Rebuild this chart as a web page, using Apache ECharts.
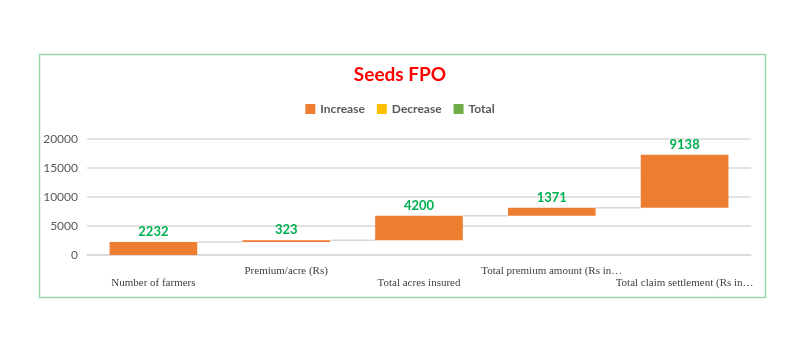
<!DOCTYPE html>
<html>
<head>
<meta charset="utf-8">
<script src="https://cdn.jsdelivr.net/npm/echarts@6/dist/echarts.min.js"></script>
<style>html,body{margin:0;padding:0;background:#fff;}#c{width:800px;height:346px;}</style>
</head>
<body>
<div id="c"></div>
<script>
const categories = ['Number of farmers', 'Premium/acre (Rs)', 'Total acres insured', 'Total premium amount (Rs in\u2026', 'Total claim settlement (Rs in\u2026'];
const increaseValues = [2232, 323, 4200, 1371, 9138];
const yTicks = { min: 0, max: 20000, interval: 5000 };

// derived cumulative bases for waterfall
const baseValues = [];
const topValues = [];
let run = 0;
increaseValues.forEach(v => { baseValues.push(run); run += v; topValues.push(run); });

const chart = echarts.init(document.getElementById('c'), null, { renderer: 'canvas' });
const BAR_RATIO = 0.66;

chart.setOption({
  animation: false,
  backgroundColor: '#fff',
  graphic: [{
    type: 'rect', left: 37, top: 52, shape: { width: 726, height: 243 },
    style: { fill: 'none', stroke: '#9ad9ad', lineWidth: 1.5 }, silent: true
  }],
  title: {
    text: 'Seeds FPO', left: 'center', top: 60,
    textStyle: { color: '#ff0000', fontFamily: 'Lato', fontWeight: 'bold', fontSize: 19 }
  },
  legend: {
    top: 98, left: 'center',
    data: ['Increase', 'Decrease', 'Total'],
    icon: 'rect', itemWidth: 10, itemHeight: 10, itemGap: 12,
    textStyle: { color: '#595959', fontFamily: 'Lato', fontWeight: 'bold', fontSize: 12 }
  },
  grid: { left: 87, right: 49, top: 139, bottom: 91 },
  xAxis: {
    type: 'category', data: categories,
    axisLine: { lineStyle: { color: '#d9d9d9', width: 1.5 } },
    axisTick: { show: false },
    axisLabel: {
      interval: 0, margin: 10,
      color: '#404040', fontFamily: 'Liberation Serif', fontSize: 11, lineHeight: 12,
      formatter: (v, i) => (i % 2 === 0 ? '\n' + v : v)
    }
  },
  yAxis: {
    type: 'value', min: yTicks.min, max: yTicks.max, interval: yTicks.interval,
    axisLine: { show: false }, axisTick: { show: false },
    splitLine: { lineStyle: { color: '#d9d9d9', width: 1.5 } },
    axisLabel: { color: '#595959', fontFamily: 'Lato', fontSize: 12, margin: 9, formatter: v => String(v) }
  },
  series: [
    {
      name: 'Base', type: 'bar', stack: 'w', data: baseValues,
      itemStyle: { color: 'transparent' }, barWidth: (BAR_RATIO * 100) + '%', silent: true
    },
    {
      name: 'Increase', type: 'bar', stack: 'w', data: increaseValues,
      itemStyle: { color: '#ED7D31' },
      label: {
        show: true, position: 'top', distance: 4,
        color: '#00B050', fontFamily: 'Lato', fontWeight: 'bold', fontSize: 13
      }
    },
    { name: 'Decrease', type: 'bar', stack: 'w', data: increaseValues.map(() => '-'), itemStyle: { color: '#FFC000' } },
    { name: 'Total', type: 'bar', stack: 'w', data: increaseValues.map(() => '-'), itemStyle: { color: '#70AD47' } },
    {
      name: 'Connectors', type: 'custom', silent: true, z: 1,
      data: topValues.slice(0, -1).map((v, i) => [i, v]),
      renderItem: function (params, api) {
        const i = api.value(0), v = api.value(1);
        const p1 = api.coord([i, v]);
        const p2 = api.coord([i + 1, v]);
        const band = api.size([1, 0])[0];
        const half = band * BAR_RATIO / 2;
        return {
          type: 'line',
          shape: { x1: p1[0] + half, y1: p1[1], x2: p2[0] - half, y2: p2[1] },
          style: { stroke: '#d9d9d9', lineWidth: 1.5 }
        };
      }
    }
  ]
});
</script>
</body>
</html>
